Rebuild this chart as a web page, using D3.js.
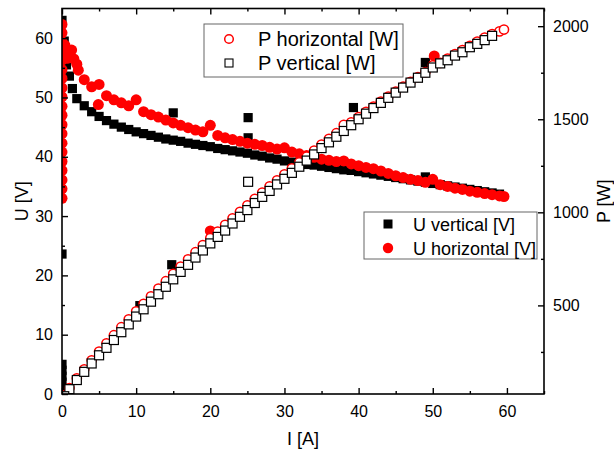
<!DOCTYPE html>
<html>
<head>
<meta charset="utf-8">
<script src="https://cdn.jsdelivr.net/npm/d3@7"></script>
<style>
  body { margin: 0; background: #fff; }
  text { font-family: "Liberation Sans", Arial, sans-serif; fill: #000; }
</style>
</head>
<body>
<script>
// current grid for the main measurement runs [A]
const current = [1, 2, 3, 4, 5, 6, 7, 8, 9, 10, 11, 12, 13, 14, 15, 16, 17, 18, 19, 20,
  21, 22, 23, 24, 25, 26, 27, 28, 29, 30, 31, 32, 33, 34, 35, 36, 37, 38, 39, 40,
  41, 42, 43, 44, 45, 46, 47, 48, 49, 50, 51, 52, 53, 54, 55, 56, 57, 58, 59, 59.6];

// voltage, vertical [V]
const uVert = [53.6, 49.8, 48.6, 47.6, 46.8, 46.1, 45.5, 45.0, 44.6, 44.2,
  43.9, 43.6, 43.3, 43.0, 42.8, 42.6, 42.3, 42.1, 41.9, 41.7,
  41.4, 41.2, 41.0, 40.8, 40.6, 40.3, 40.1, 39.8, 39.6, 39.3,
  39.1, 38.9, 38.7, 38.6, 38.4, 38.2, 38.0, 37.8, 37.7, 37.5,
  37.3, 37.1, 36.9, 36.7, 36.5, 36.3, 36.1, 35.9, 35.7, 35.5,
  35.3, 35.1, 34.9, 34.7, 34.5, 34.3, 34.1, 33.9, 33.7];
// voltage, horizontal [V]
const uHor = [57.3, 55.6, 53.0, 51.8, 52.2, 50.3, 49.6, 49.1, 48.6, 49.6,
  47.6, 47.1, 46.7, 46.2, 45.7, 45.3, 44.9, 44.5, 44.2, 45.3,
  43.6, 43.2, 42.9, 42.6, 42.3, 42.1, 41.9, 41.6, 41.3, 41.5,
  40.8, 40.5, 40.2, 39.9, 39.6, 39.4, 39.2, 39.3, 38.8, 38.5,
  38.2, 38.0, 37.6, 37.2, 36.8, 36.5, 36.2, 36.0, 35.7, 36.2,
  35.3, 35.0, 34.7, 34.5, 34.2, 34.0, 33.8, 33.6, 33.4, 33.3];
// power, vertical [W]
const pVert = [50, 99, 143, 188, 232, 272, 314, 356, 398, 440,
  479, 520, 560, 600, 640, 680, 718, 757, 795, 833,
  868, 902, 940, 976, 1012, 1050, 1083, 1115, 1150, 1180,
  1212, 1245, 1278, 1311, 1345, 1376, 1406, 1437, 1468, 1500,
  1530, 1560, 1588, 1615, 1643, 1670, 1697, 1723, 1750, 1778,
  1800, 1817, 1842, 1860, 1887, 1905, 1925, 1948];
// power, horizontal [W]
const pHor = [56, 108, 157, 205, 252, 296, 340, 383, 425, 468,
  508, 549, 590, 630, 670, 709, 748, 786, 824, 862,
  897, 933, 968, 1003, 1038, 1073, 1106, 1140, 1172, 1204,
  1236, 1268, 1300, 1332, 1364, 1395, 1425, 1470, 1484, 1512,
  1540, 1568, 1595, 1622, 1648, 1675, 1701, 1727, 1753, 1790,
  1803, 1826, 1850, 1872, 1895, 1917, 1939, 1958, 1972, 1982];

// start-up transient and stray readings
const uVertExtraI = [0, 0.3, 0.6, 1.4, 0, 0, 0, 0, 0, 0, 0.2, 10.5, 14.8, 15, 25.1, 25.1, 39.3, 49, 49];
const uVertExtraU = [63, 59.5, 55.5, 51.5, 23.6, 5.0, 4.0, 3.0, 2.0, 1.0, 0.3, 14.9, 21.8, 47.4, 46.6, 43.2, 48.3, 55.9, 36.6];
const uHorExtraI = [0, 0, 0, 0, 0, 0, 0, 0, 0, 0, 0, 0, 0, 0, 0, 0, 0, 0, 0, 0,
  0.4, 0.7, 1.3, 1.6, 2.2, 4.9, 20, 50.2];
const uHorExtraU = [33.0, 34.6, 36.1, 37.7, 39.2, 40.8, 42.3, 43.9, 45.4, 47.0,
  48.5, 50.1, 51.6, 53.2, 54.7, 56.3, 57.8, 59.4, 60.9, 62.3,
  58.8, 56.6, 58.0, 56.5, 54.6, 48.8, 27.5, 57.0];
const pVertExtraI = [0.3, 25.1];
const pVertExtraP = [12, 1164];
const pHorExtraI = [0.4];
const pHorExtraP = [18];

const xTicks = [0, 10, 20, 30, 40, 50, 60];
const xMinor = [5, 15, 25, 35, 45, 55, 65];
const uTicks = [0, 10, 20, 30, 40, 50, 60];
const uMinor = [5, 15, 25, 35, 45, 55];
const pTicks = [500, 1000, 1500, 2000];
const pMinor = [250, 750, 1250, 1750];

const W = 614, H = 454;
const L = 62, R = 544, T = 8.5, B = 394;

const svg = d3.select("body").append("svg")
  .attr("width", W).attr("height", H);

const x = d3.scaleLinear().domain([0, 65]).range([L, R]);
const yU = d3.scaleLinear().domain([0, 65]).range([B, T]);
const yP = d3.scaleLinear().domain([24, 2095]).range([B, T]);

svg.append("clipPath").attr("id", "plot")
  .append("rect").attr("x", L).attr("y", T).attr("width", R - L).attr("height", B - T);

function pairs(xs, ys) {
  return ys.map((v, i) => [xs[i], v]);
}

const marks = svg.append("g").attr("clip-path", "url(#plot)");

// U vertical: filled black squares
marks.append("g").selectAll("rect")
  .data(pairs(current, uVert).concat(pairs(uVertExtraI, uVertExtraU)))
  .enter().append("rect")
  .attr("x", d => x(d[0]) - 4.6)
  .attr("y", d => yU(d[1]) - 4.6)
  .attr("width", 9.2).attr("height", 9.2)
  .attr("fill", "#000");

// U horizontal: filled red circles
marks.append("g").selectAll("circle")
  .data(pairs(current, uHor).concat(pairs(uHorExtraI, uHorExtraU)))
  .enter().append("circle")
  .attr("cx", d => x(d[0]))
  .attr("cy", d => yU(d[1]))
  .attr("r", 5.5)
  .attr("fill", "#ff0000");

// P horizontal: open red circles
marks.append("g").selectAll("circle")
  .data(pairs(current, pHor).concat(pairs(pHorExtraI, pHorExtraP)))
  .enter().append("circle")
  .attr("cx", d => x(d[0]))
  .attr("cy", d => yP(d[1]))
  .attr("r", 4.6)
  .attr("fill", "#fff")
  .attr("stroke", "#ff0000")
  .attr("stroke-width", 1.5);

// P vertical: open black squares
marks.append("g").selectAll("rect")
  .data(pairs(current, pVert).concat(pairs(pVertExtraI, pVertExtraP)))
  .enter().append("rect")
  .attr("x", d => x(d[0]) - 4.5)
  .attr("y", d => yP(d[1]) - 4.5)
  .attr("width", 9).attr("height", 9)
  .attr("fill", "#fff")
  .attr("stroke", "#000")
  .attr("stroke-width", 1.2);

// axes, ticks pointing inwards
function styleAxis(g) {
  g.select(".domain").remove();
  g.selectAll("line").attr("stroke", "#000").attr("stroke-width", 1.4);
  g.selectAll("text").style("font-size", "16px").attr("fill", "#000");
}

svg.append("g").attr("transform", `translate(0,${B})`)
  .call(d3.axisBottom(x).tickValues(xTicks).tickSize(-6).tickPadding(11.6).tickFormat(d3.format("d")))
  .call(styleAxis);
svg.append("g").attr("transform", `translate(0,${B})`)
  .call(d3.axisBottom(x).tickValues(xMinor).tickSize(-3).tickFormat(""))
  .call(styleAxis);
svg.append("g").attr("transform", `translate(0,${T})`)
  .call(d3.axisTop(x).tickValues(xTicks).tickSize(-6).tickFormat(""))
  .call(styleAxis);
svg.append("g").attr("transform", `translate(0,${T})`)
  .call(d3.axisTop(x).tickValues(xMinor).tickSize(-3).tickFormat(""))
  .call(styleAxis);

svg.append("g").attr("transform", `translate(${L},0)`)
  .call(d3.axisLeft(yU).tickValues(uTicks).tickSize(-6).tickPadding(9).tickFormat(d3.format("d")))
  .call(styleAxis);
svg.append("g").attr("transform", `translate(${L},0)`)
  .call(d3.axisLeft(yU).tickValues(uMinor).tickSize(-3).tickFormat(""))
  .call(styleAxis);

svg.append("g").attr("transform", `translate(${R},0)`)
  .call(d3.axisRight(yP).tickValues(pTicks).tickSize(-6).tickPadding(9).tickFormat(d3.format("d")))
  .call(styleAxis);
svg.append("g").attr("transform", `translate(${R},0)`)
  .call(d3.axisRight(yP).tickValues(pMinor).tickSize(-3).tickFormat(""))
  .call(styleAxis);

// frame
svg.append("rect")
  .attr("x", L).attr("y", T).attr("width", R - L).attr("height", B - T)
  .attr("fill", "none").attr("stroke", "#000").attr("stroke-width", 1.6);

// axis titles
svg.append("text")
  .attr("x", (L + R) / 2).attr("y", 445)
  .attr("text-anchor", "middle").style("font-size", "18px")
  .text("I [A]");
svg.append("text")
  .attr("transform", `translate(28,${(T + B) / 2}) rotate(-90)`)
  .attr("text-anchor", "middle").style("font-size", "18px")
  .text("U [V]");
svg.append("text")
  .attr("transform", `translate(610,${(T + B) / 2}) rotate(-90)`)
  .attr("text-anchor", "middle").style("font-size", "18px")
  .text("P [W]");

// legend for P
const leg1 = svg.append("g");
leg1.append("rect")
  .attr("x", 204).attr("y", 24).attr("width", 199).attr("height", 53)
  .attr("fill", "#fff").attr("stroke", "#666").attr("stroke-width", 1);
leg1.append("circle").attr("cx", 229).attr("cy", 39).attr("r", 4.3)
  .attr("fill", "#fff").attr("stroke", "#ff0000").attr("stroke-width", 1.5);
leg1.append("rect").attr("x", 225).attr("y", 59).attr("width", 8).attr("height", 8)
  .attr("fill", "#fff").attr("stroke", "#000").attr("stroke-width", 1.1);
leg1.append("text").attr("x", 258).attr("y", 46).style("font-size", "20px").text("P horizontal [W]");
leg1.append("text").attr("x", 258).attr("y", 70).style("font-size", "20px").text("P vertical [W]");

// legend for U
const leg2 = svg.append("g");
leg2.append("rect")
  .attr("x", 364).attr("y", 212).attr("width", 173).attr("height", 47)
  .attr("fill", "#fff").attr("stroke", "#666").attr("stroke-width", 1);
leg2.append("rect").attr("x", 383.5).attr("y", 219.5).attr("width", 9).attr("height", 9)
  .attr("fill", "#000");
leg2.append("circle").attr("cx", 388).attr("cy", 248).attr("r", 5.2)
  .attr("fill", "#ff0000");
leg2.append("text").attr("x", 413).attr("y", 231).style("font-size", "18px").text("U vertical [V]");
leg2.append("text").attr("x", 413).attr("y", 255).style("font-size", "18px").text("U horizontal [V]");
</script>
</body>
</html>
